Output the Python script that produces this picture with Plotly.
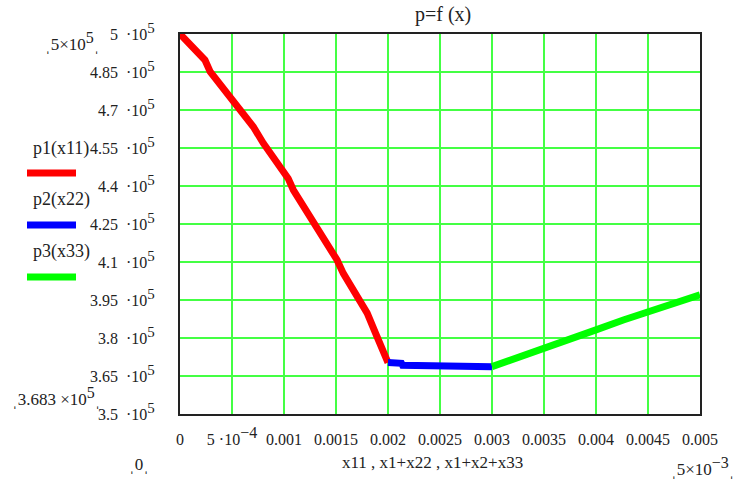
import plotly.graph_objects as go

# ---- data ----
x11 = [0.0, 0.00013, 0.00024, 0.00029, 0.000385, 0.000513, 0.000577, 0.000705, 0.000801,
       0.00093, 0.00104, 0.00109, 0.00117, 0.00128, 0.00138, 0.00151, 0.00157, 0.00170,
       0.00180, 0.00188, 0.00200]
p1 = [5.0e5, 4.944e5, 4.897e5, 4.851e5, 4.799e5, 4.733e5, 4.700e5, 4.634e5, 4.569e5,
      4.490e5, 4.430e5, 4.384e5, 4.332e5, 4.259e5, 4.200e5, 4.108e5, 4.055e5, 3.963e5,
      3.898e5, 3.819e5, 3.703e5]

x22 = [0.0020, 0.00213, 0.00214, 0.00268, 0.00269, 0.0030]
p2 = [3.703e5, 3.700e5, 3.692e5, 3.692e5, 3.687e5, 3.687e5]

x33 = [0.0030, 0.003205, 0.003493, 0.00375, 0.0040, 0.004263, 0.00451, 0.004776, 0.0050]
p3 = [3.687e5, 3.716e5, 3.753e5, 3.792e5, 3.832e5, 3.871e5, 3.904e5, 3.937e5, 3.970e5]

y_ticks = [3.5e5, 3.65e5, 3.8e5, 3.95e5, 4.1e5, 4.25e5, 4.4e5, 4.55e5, 4.7e5, 4.85e5, 5.0e5]
y_ticktext = ["3.5", "3.65", "3.8", "3.95", "4.1", "4.25", "4.4", "4.55", "4.7", "4.85", "5"]
x_ticks = [0, 0.0005, 0.001, 0.0015, 0.002, 0.0025, 0.003, 0.0035, 0.004, 0.0045, 0.005]
x_ticktext = ["0", "5\u00a0·10<sup><span style='font-size:16px'>−4</span></sup>", "0.001",
              "0.0015", "0.002", "0.0025", "0.003", "0.0035", "0.004", "0.0045", "0.005"]

legend_names = ["p1(x11)", "p2(x22)", "p3(x33)"]
colors = ["#ff0000", "#0000ff", "#00ff00"]

FONT = "Liberation Serif"
W, H = 734, 482
L, R, T, B = 180, 34, 34, 68
PW, PH = W - L - R, H - T - B


def px(x):
    return (x - L) / PW


def py(y):
    return (H - B - y) / PH


def sup(s, size=15):
    return "<sup><span style='font-size:%dpx'>%s</span></sup>" % (size, s)


fig = go.Figure()
for xs, ys, c, n in zip([x11, x22, x33], [p1, p2, p3], colors, legend_names):
    fig.add_trace(go.Scatter(x=xs, y=ys, mode="lines", name=n,
                             line=dict(color=c, width=7), showlegend=False))

fig.update_layout(
    width=W, height=H,
    margin=dict(l=L, r=R, t=T, b=B),
    paper_bgcolor="white", plot_bgcolor="white",
    font=dict(family=FONT, size=16, color="#222"),
    showlegend=False,
)
fig.update_xaxes(range=[0, 0.005], tickvals=x_ticks, ticktext=x_ticktext,
                 showgrid=True, gridcolor="#44ff44", gridwidth=2,
                 showline=True, linecolor="#222", linewidth=2, mirror=True,
                 zeroline=False, ticks="", ticklabelstandoff=10,
                 tickfont=dict(family=FONT, size=16, color="#222"))
fig.update_yaxes(range=[3.5e5, 5.0e5], tickvals=y_ticks,
                 ticktext=[t + "\u00a0\u00a0·10" + sup("5") for t in y_ticktext],
                 showgrid=True, gridcolor="#44ff44", gridwidth=2,
                 showline=True, linecolor="#222", linewidth=2, mirror=True,
                 zeroline=False, ticks="", ticklabelstandoff=20,
                 tickfont=dict(family=FONT, size=16, color="#222"))

ann = []


def add_text(text, x, y, size=16, xanchor="center"):
    ann.append(dict(text=text, x=px(x), y=py(y), xref="paper", yref="paper",
                    showarrow=False, xanchor=xanchor, yanchor="middle",
                    font=dict(family=FONT, size=size, color="#222")))


add_text("p=f (x)", 443, 14, size=20)
add_text("x11 , x1+x22 , x1+x2+x33", 432, 462, size=17)
add_text("ˌ5×10" + sup("5", 16) + "ˌ", 72, 42, size=17)
add_text("ˌ3.683 ×10" + sup("5", 16) + "ˌ", 56, 396, size=17)
add_text("ˌ0ˌ", 139, 464, size=17)
add_text("ˌ5×10" + sup("−3", 16) + "ˌ", 702, 466, size=17)

legend_y_text = [148, 199, 251]
legend_y_line = [173, 225, 277]
shapes = []
for n, c, yt, yl in zip(legend_names, colors, legend_y_text, legend_y_line):
    add_text(n, 61, yt, size=18)
    shapes.append(dict(type="line", xref="paper", yref="paper",
                       x0=px(27), x1=px(76), y0=py(yl), y1=py(yl),
                       line=dict(color=c, width=7)))

fig.update_layout(annotations=ann, shapes=shapes)
fig.write_html("out.html")
